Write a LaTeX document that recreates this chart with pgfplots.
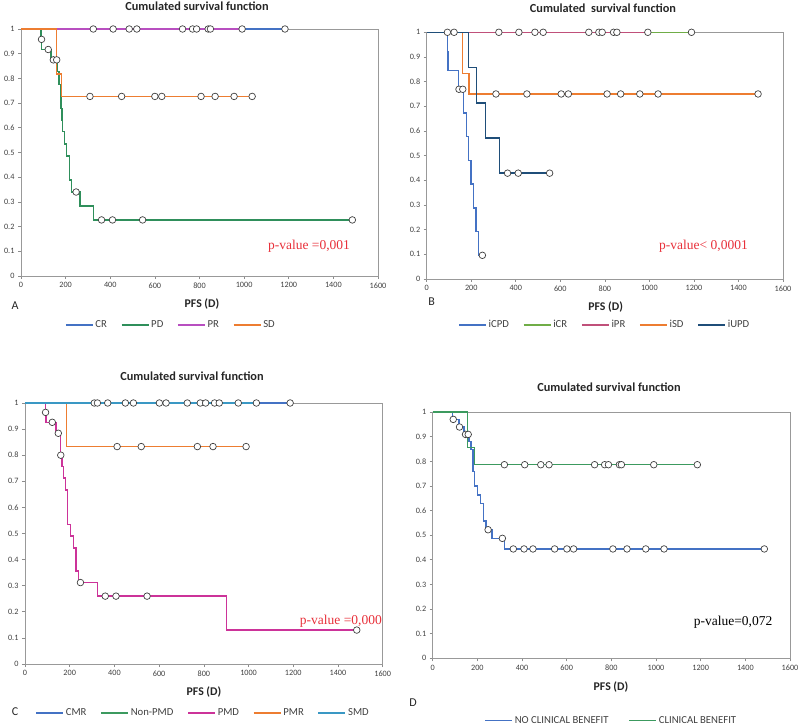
\documentclass[border=0pt]{standalone}
\usepackage{pgfplots}
\pgfplotsset{compat=1.18}
\usepackage{fontspec}
\setmainfont{Carlito}
\newfontfamily\timesfont{Liberation Serif}
\definecolor{xblue}{HTML}{4472C4}
\definecolor{xorange}{HTML}{ED7D31}
\definecolor{agreen}{HTML}{2F8F5B}
\definecolor{amag}{HTML}{B84FC0}
\definecolor{brose}{HTML}{C0507A}
\definecolor{bgreen}{HTML}{70AD47}
\definecolor{bnavy}{HTML}{1F4E79}
\definecolor{cmag}{HTML}{CC3399}
\definecolor{cteal}{HTML}{3A98C4}
\definecolor{dgreen}{HTML}{3C9A5F}
\definecolor{pred}{HTML}{E8303A}
\definecolor{txt}{HTML}{404040}
\pgfplotsset{
  km/.style={scale only axis, xmin=0, xmax=1600, ymin=0, ymax=1,
    xtick={0,200,400,600,800,1000,1200,1400,1600},
    ytick={0,0.1,0.2,0.3,0.4,0.5,0.6,0.7,0.8,0.9,1},
    tick align=outside, xtick pos=bottom, ytick pos=left,
    major tick length=3pt,
    axis line style={draw=black!40, line width=0.8pt},
    tick style={draw=black!45, line width=0.6pt},
    ticklabel style={font=\fontsize{8.2}{9}\selectfont, color=txt},
    /pgf/number format/assume math mode=true,
    /pgf/number format/1000 sep={},
    clip=false,
    legend columns=-1,
    legend style={draw=none, fill=none, font=\fontsize{10.7}{12}\selectfont, text=txt,
      /tikz/every even column/.append style={column sep=12pt}},
    legend image code/.code={\draw[##1, line width=1.3pt] (0pt,0pt) -- (27pt,0pt);},
  },
  kml/.style={const plot, no marks, line width=1.35pt},
  kmm/.style={only marks, mark=*, mark size=3.3pt, mark options={fill=white, draw=black!75, line width=0.7pt}, forget plot},
}
\begin{document}
\begin{tikzpicture}
\path[use as bounding box] (0,0) rectangle (800pt,725pt);

% ---------------- Panel A
\begin{axis}[km, at={(21pt,449pt)}, anchor=south west, width=357pt, height=247pt,
  legend style={at={(0.42,-0.198)}, anchor=center}]
\addplot[kml, xblue] coordinates {(0,1) (1183,1)}; \addlegendentry{CR}
\addplot[kml, agreen] coordinates {(0,1) (90,0.958) (93,0.917) (135,0.875) (163,0.827) (170,0.776) (176,0.727) (180,0.679) (183,0.63) (185,0.584) (194,0.534) (205,0.486) (217,0.389) (227,0.34) (264,0.283) (324,0.227) (1485,0.227)}; \addlegendentry{PD}
\addplot[kml, amag] coordinates {(0,1) (991,1)}; \addlegendentry{PR}
\addplot[kml, xorange] coordinates {(0,1) (160,0.818) (182,0.727) (1036,0.727)}; \addlegendentry{SD}
\addplot[kmm] coordinates {(324,1) (413,1) (485,1) (519,1) (724,1) (769,1) (787,1) (839,1) (849,1) (991,1) (1183,1)};
\addplot[kmm] coordinates {(309,0.727) (451,0.727) (600,0.727) (631,0.727) (807,0.727) (870,0.727) (955,0.727) (1036,0.727)};
\addplot[kmm] coordinates {(92,0.958) (122,0.917) (145,0.875) (160,0.875) (247,0.34) (361,0.227) (410,0.227) (545,0.227) (1485,0.227)};
\node[font=\timesfont\fontsize{13.5}{15}\selectfont, text=pred] at (axis cs:1291,0.119) {p-value =0,001};
\end{axis}

% ---------------- Panel B
\begin{axis}[km, at={(426.7pt,446pt)}, anchor=south west, width=356.3pt, height=246.7pt,
  legend style={at={(0.5,-0.186)}, anchor=center}]
\addplot[kml, xblue] coordinates {(0,1) (92,0.923) (95,0.846) (143,0.769) (165,0.673) (180,0.577) (187,0.481) (199,0.385) (209,0.288) (221,0.192) (232,0.096) (250,0.096)}; \addlegendentry{iCPD}
\addplot[kml, bgreen] coordinates {(0,1) (1189,1)}; \addlegendentry{iCR}
\addplot[kml, brose] coordinates {(0,1) (993,1)}; \addlegendentry{iPR}
\addplot[kml, xorange] coordinates {(0,1) (160,0.833) (190,0.75) (1488,0.75)}; \addlegendentry{iSD}
\addplot[kml, bnavy] coordinates {(0,1) (187,0.857) (224,0.714) (265,0.571) (326,0.429) (552,0.429)}; \addlegendentry{iUPD}
\addplot[kmm] coordinates {(93,1) (123,1) (324,1) (414,1) (486,1) (523,1) (728,1) (773,1) (788,1) (839,1) (854,1) (993,1) (1189,1)};
\addplot[kmm] coordinates {(311,0.75) (450,0.75) (604,0.75) (636,0.75) (810,0.75) (871,0.75) (957,0.75) (1039,0.75) (1488,0.75)};
\addplot[kmm] coordinates {(363,0.429) (411,0.429) (552,0.429)};
\addplot[kmm] coordinates {(145,0.769) (162,0.769) (250,0.096)};
\node[font=\timesfont\fontsize{13.5}{15}\selectfont, text=pred] at (axis cs:1243,0.131) {p-value< 0,0001};
\end{axis}

% ---------------- Panel C
\begin{axis}[km, at={(25pt,61pt)}, anchor=south west, width=357.7pt, height=261pt,
  legend style={at={(0.498,-0.188)}, anchor=center}]
\addplot[kml, xblue] coordinates {(0,1) (1186,1)}; \addlegendentry{CMR}
\addlegendimage{dgreen} \addlegendentry{Non-PMD}
\addplot[kml, cmag] coordinates {(0,1) (92,0.964) (94,0.926) (139,0.884) (160,0.80) (165,0.757) (172,0.712) (182,0.667) (191,0.534) (204,0.49) (216,0.445) (228,0.356) (239,0.312) (325,0.26) (902,0.13) (1484,0.13)}; \addlegendentry{PMD}
\addplot[kml, xorange] coordinates {(0,1) (185,0.833) (989,0.833)}; \addlegendentry{PMR}
\addplot[kml, cteal] coordinates {(0,1) (1035,1)}; \addlegendentry{SMD}
\addplot[kmm] coordinates {(310,1) (324,1) (370,1) (449,1) (485,1) (601,1) (631,1) (726,1) (784,1) (808,1) (848,1) (869,1) (954,1) (1035,1) (1186,1)};
\addplot[kmm] coordinates {(412,0.833) (520,0.833) (771,0.833) (841,0.833) (989,0.833)};
\addplot[kmm] coordinates {(92,0.964) (122,0.926) (149,0.884) (160,0.80) (248,0.312) (359,0.26) (407,0.26) (546,0.26) (1484,0.13)};
\node[font=\timesfont\fontsize{13.5}{15}\selectfont, text=pred] at (axis cs:1413,0.162) {p-value =0,000};
\end{axis}

% ---------------- Panel D
\begin{axis}[km, at={(432.7pt,66.7pt)}, anchor=south west, width=357.3pt, height=246.3pt,
  legend style={at={(0.5,-0.253)}, anchor=center, /tikz/every even column/.append style={column sep=18pt}}]
\addplot[kml, xblue] coordinates {(0,1) (90,0.970) (118,0.939) (140,0.909) (162,0.879) (172,0.849) (180,0.758) (186,0.70) (200,0.663) (215,0.629) (227,0.557) (239,0.524) (266,0.487) (322,0.444) (1485,0.444)}; \addlegendentry{NO CLINICAL BENEFIT}
\addplot[kml, dgreen] coordinates {(0,1) (157,0.857) (186,0.786) (1185,0.786)}; \addlegendentry{CLINICAL BENEFIT}
\addplot[kmm] coordinates {(321,0.786) (412,0.786) (484,0.786) (521,0.786) (725,0.786) (770,0.786) (787,0.786) (836,0.786) (845,0.786) (990,0.786) (1185,0.786)};
\addplot[kmm] coordinates {(92,0.970) (120,0.939) (147,0.909) (159,0.909) (248,0.522) (312,0.487) (361,0.444) (409,0.444) (449,0.444) (546,0.444) (601,0.444) (631,0.444) (807,0.444) (870,0.444) (954,0.444) (1036,0.444) (1485,0.444)};
\node[font=\timesfont\fontsize{13.5}{15}\selectfont, text=black] at (axis cs:1345,0.146) {p-value=0,072};
\end{axis}

% ---------------- Titles, axis labels, panel letters
\begin{scope}[every node/.style={text=black!85}]
\node[font=\bfseries\fontsize{12.3}{14}\selectfont] at (197pt,719pt) {Cumulated survival function};
\node[font=\bfseries\fontsize{12.3}{14}\selectfont] at (603pt,716.7pt) {Cumulated\ \ survival function};
\node[font=\bfseries\fontsize{12.3}{14}\selectfont] at (192pt,348.3pt) {Cumulated survival function};
\node[font=\bfseries\fontsize{12.3}{14}\selectfont] at (609pt,338pt) {Cumulated survival function};
\node[font=\bfseries\fontsize{11.8}{13}\selectfont] at (202pt,421pt) {PFS (D)};
\node[font=\bfseries\fontsize{11.8}{13}\selectfont] at (605.7pt,418.3pt) {PFS (D)};
\node[font=\bfseries\fontsize{11.8}{13}\selectfont] at (204pt,33pt) {PFS (D)};
\node[font=\bfseries\fontsize{11.8}{13}\selectfont] at (611pt,38pt) {PFS (D)};
\node[font=\fontsize{12}{13}\selectfont] at (15pt,419pt) {A};
\node[font=\fontsize{12}{13}\selectfont] at (431.7pt,423.3pt) {B};
\node[font=\fontsize{12}{13}\selectfont] at (15pt,13pt) {C};
\node[font=\fontsize{12}{13}\selectfont] at (413pt,22pt) {D};
\end{scope}
\end{tikzpicture}
\end{document}
